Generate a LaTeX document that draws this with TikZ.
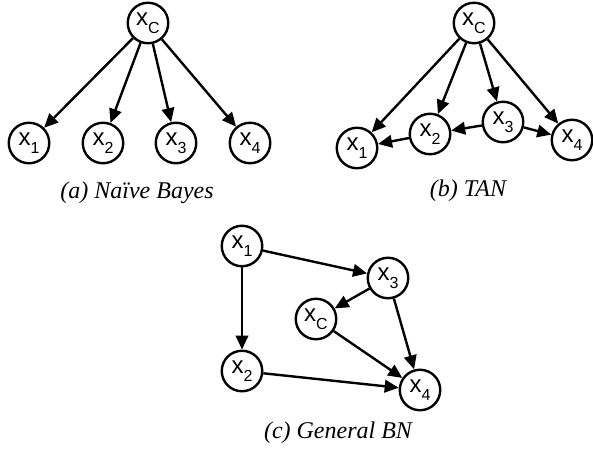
\documentclass[tikz,border=0pt]{standalone}
\usepackage{fontspec}
\setmainfont{Liberation Sans}
\newfontfamily\capfont{Liberation Serif}
\usetikzlibrary{arrows.meta}
\newcommand{\xv}[1]{x\raisebox{-8pt}{\fontsize{16}{16}\selectfont #1}}
\tikzset{
  var/.style={circle, draw, line width=2.4pt, minimum size=40.5pt, inner sep=0pt,
    font=\fontsize{24}{24}\selectfont},
  arr/.style={line width=2.4pt, -{Triangle[length=14pt,width=12.5pt]}},
  captext/.style={font=\capfont\itshape\fontsize{24}{28}\selectfont}
}
\begin{document}
\begin{tikzpicture}[x=1pt,y=1pt]
\useasboundingbox (0,0) rectangle (593,-452);
% (a) Naive Bayes
\node[var] (aC) at (148,-23) {\xv{C}};
\node[var] (a1) at (29,-143) {\xv{1}};
\node[var] (a2) at (103,-143) {\xv{2}};
\node[var] (a3) at (176,-143) {\xv{3}};
\node[var] (a4) at (250,-143) {\xv{4}};
\foreach \t in {a1,a2,a3,a4} \draw[arr] (aC) -- (\t);
\node[captext] (capa) at (137,-193) {(a) Naïve Bayes};
% (b) TAN
\node[var] (bC) at (474,-23) {\xv{C}};
\node[var] (b1) at (357,-148) {\xv{1}};
\node[var] (b2) at (430,-134) {\xv{2}};
\node[var] (b3) at (503,-122) {\xv{3}};
\node[var] (b4) at (572,-140) {\xv{4}};
\foreach \t in {b1,b2,b3,b4} \draw[arr] (bC) -- (\t);
\draw[arr] (b2) -- (b1);
\draw[arr] (b3) -- (b2);
\draw[arr] (b3) -- (b4);
\node[captext] (capb) at (468,-191) {(b) TAN};
% (c) General BN
\node[var] (c1) at (242,-246) {\xv{1}};
\node[var] (c2) at (242,-371) {\xv{2}};
\node[var] (c3) at (388,-278) {\xv{3}};
\node[var] (cC) at (316,-319) {\xv{C}};
\node[var] (c4) at (420,-390) {\xv{4}};
\draw[arr] (c1) -- (c3);
\draw[arr] (c1) -- (c2);
\draw[arr] (c3) -- (cC);
\draw[arr] (c3) -- (c4);
\draw[arr] (cC) -- (c4);
\draw[arr] (c2) -- (c4);
\node[captext] (capc) at (338,-433) {(c) General BN};
\end{tikzpicture}
\end{document}
